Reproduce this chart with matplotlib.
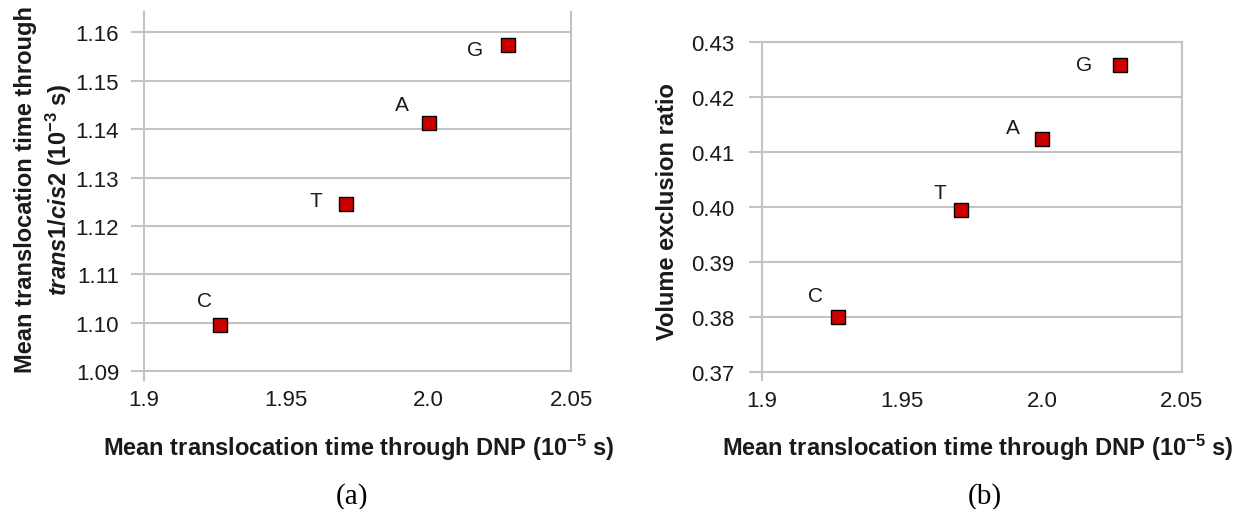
import matplotlib
matplotlib.use("Agg")
import matplotlib.pyplot as plt

plt.rcParams['font.family'] = ['Liberation Sans', 'DejaVu Sans']
plt.rcParams['mathtext.fontset'] = 'custom'
plt.rcParams['mathtext.rm'] = 'Liberation Sans:bold'
plt.rcParams['mathtext.it'] = 'Liberation Sans:bold:italic'
plt.rcParams['mathtext.bf'] = 'Liberation Sans:bold'

# data
bases = ["C", "T", "A", "G"]
dnp_time = [1.927, 1.971, 2.000, 2.028]          # 10^-5 s
trans_cis_time = [1.0995, 1.1245, 1.1413, 1.1574]  # 10^-3 s
excl_ratio = [0.3800, 0.3994, 0.4124, 0.4259]

x_ticks = [1.9, 1.95, 2.0, 2.05]
x_ticklabels = ["1.9", "1.95", "2.0", "2.05"]
ya_ticks = [1.09, 1.10, 1.11, 1.12, 1.13, 1.14, 1.15, 1.16]
yb_ticks = [0.37, 0.38, 0.39, 0.40, 0.41, 0.42, 0.43]

# label offsets (points) for the base letters
offs_a = [(-11.5, 18), (-21.5, 3), (-19.5, 13), (-24, -3)]
offs_b = [(-16, 15), (-15, 13), (-21, 8), (-26, 0)]

GRID = "#c3c3c3"
TXT = "#1a1a1a"
RED = "#cc0000"

fig = plt.figure(figsize=(12.35, 5.10), dpi=100)
ax_a = fig.add_axes([0.1162, 0.2700, 0.3462, 0.7045])
ax_b = fig.add_axes([0.6170, 0.2692, 0.3399, 0.6459])


def style(ax, yticks, ylim, fmt, ypad, top_spine):
    ax.set_xlim(1.9, 2.05)
    ax.set_ylim(*ylim)
    ax.set_xticks(x_ticks)
    ax.set_xticklabels(x_ticklabels)
    ax.set_yticks(yticks)
    ax.set_yticklabels([fmt % v for v in yticks])
    ax.yaxis.grid(True, color=GRID, lw=1.5)
    ax.set_axisbelow(True)
    for s in ["left", "right", "bottom", "top"]:
        ax.spines[s].set_color(GRID)
        ax.spines[s].set_linewidth(1.5)
    ax.spines["top"].set_visible(top_spine)
    ax.tick_params(axis="y", length=9.5, width=1.5, color=GRID,
                   labelsize=16, labelcolor=TXT, pad=ypad)
    ax.tick_params(axis="x", length=0, labelsize=16, labelcolor=TXT, pad=13)
    # little extension of the y axis line below the plot area
    ax.axvline(1.9, ymin=-0.025, ymax=0, color=GRID, lw=1.5, clip_on=False)


style(ax_a, ya_ticks, (1.09, 1.1642), "%.2f", 8, False)
style(ax_b, yb_ticks, (0.37, 0.43), "%.2f", 10.5, True)

ax_a.plot(dnp_time, trans_cis_time, ls="none", marker="s", ms=9.5,
          mfc=RED, mec="black", mew=1, zorder=3)
ax_b.plot(dnp_time, excl_ratio, ls="none", marker="s", ms=9.5,
          mfc=RED, mec="black", mew=1, zorder=3)

for b, x, y, o in zip(bases, dnp_time, trans_cis_time, offs_a):
    ax_a.annotate(b, (x, y), xytext=o, textcoords="offset points",
                  ha="center", va="center", fontsize=15, color=TXT)
for b, x, y, o in zip(bases, dnp_time, excl_ratio, offs_b):
    ax_b.annotate(b, (x, y), xytext=o, textcoords="offset points",
                  ha="center", va="center", fontsize=15, color=TXT)

xlab = "Mean translocation time through DNP (10$^{-5}$ s)"
fig.text(0.2907, 0.1216, xlab, ha="center", va="center",
         fontsize=17, fontweight="bold", color=TXT)
fig.text(0.7919, 0.1216, xlab, ha="center", va="center",
         fontsize=17, fontweight="bold", color=TXT)

fig.text(0.0357, 0.6275,
         "Mean translocation time through\n"
         r"$\mathit{trans1/cis2}$ (10$^{-3}$ s)",
         rotation=90, ha="center", va="center", multialignment="center",
         fontsize=17, fontweight="bold", color=TXT, linespacing=1.3)
fig.text(0.5401, 0.5843, "Volume exclusion ratio", rotation=90,
         ha="center", va="center", fontsize=17, fontweight="bold", color=TXT)

fig.text(0.2850, 0.0255, "(a)", ha="center", va="center",
         fontsize=21, family="Liberation Serif", color="black")
fig.text(0.7976, 0.0255, "(b)", ha="center", va="center",
         fontsize=21, family="Liberation Serif", color="black")

fig.savefig("out.png", dpi=100)
